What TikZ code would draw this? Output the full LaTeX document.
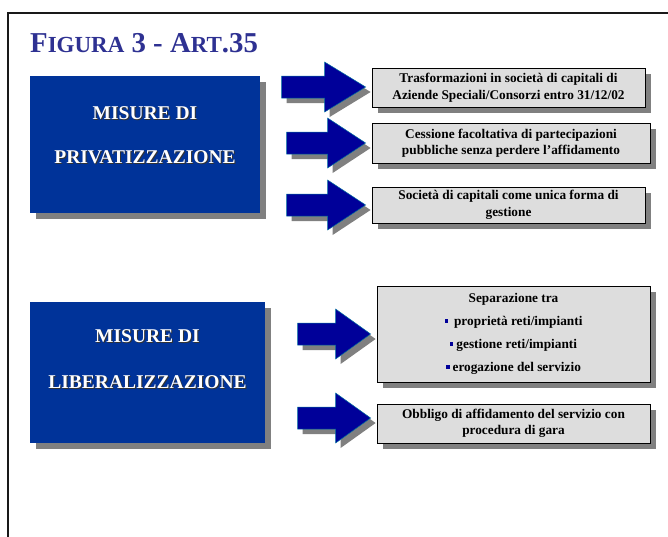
\documentclass[tikz,border=0pt]{standalone}
\usepackage{fontspec}
\setmainfont{Liberation Serif}
\usetikzlibrary{shadows,calc}
\definecolor{titleblue}{RGB}{46,49,146}
\definecolor{boxblue}{RGB}{0,51,153}
\definecolor{arrowblue}{RGB}{0,0,153}
\definecolor{arrowedge}{RGB}{0,110,160}
\definecolor{shadowgray}{RGB}{128,128,128}
\definecolor{panelgray}{RGB}{221,221,221}
\newcommand{\shtext}[1]{\makebox[0pt][l]{\hspace{1pt}\raisebox{-1pt}{\color{black!80}#1}}{\color{white}#1}}
\newcommand{\bul}{\textcolor{arrowblue}{\rule[3pt]{3.5pt}{3.5pt}}}
% block arrow: #1 tip point, #2 head length, #3 total length
\newcommand{\blockarr}[3]{%
  \begin{scope}[shift={#1}]
    \fill[shadowgray] (-#3+5,-6) -- (-#2+5,-6) -- (-#2+5,-20) -- (5,5) -- (-#2+5,30) -- (-#2+5,16) -- (-#3+5,16) -- cycle;
    \draw[arrowshape] (-#3,-11) -- (-#2,-11) -- (-#2,-25) -- (0,0) -- (-#2,25) -- (-#2,11) -- (-#3,11) -- cycle;
  \end{scope}}
\begin{document}
\begin{tikzpicture}[x=1pt,y=-1pt,
  frame/.style={draw=black!90, line width=1.6pt},
  bluebox/.style={fill=boxblue, inner sep=0pt,
    drop shadow={shadow xshift=6pt, shadow yshift=-6pt, fill=shadowgray, opacity=1}},
  bluetext/.style={inner sep=0pt, anchor=base, font=\bfseries\fontsize{19.5}{22}\selectfont},
  graybox/.style={draw=black, line width=0.8pt, fill=panelgray, inner sep=0pt, align=center,
    font=\bfseries\fontsize{13.3}{16.5}\selectfont,
    drop shadow={shadow xshift=6pt, shadow yshift=-6pt, fill=shadowgray, opacity=1}},
  arrowshape/.style={fill=arrowblue, draw=arrowedge, line width=0.5pt, line join=miter}]
\useasboundingbox (0,0) rectangle (668,536);
\fill[white] (0,0) rectangle (668,536);
\draw[frame] (8,537) -- (8,13) -- (669,13);

\node[anchor=base west, inner sep=0pt, text=titleblue, font=\bfseries] (title) at (30,52)
  {\fontsize{28.8}{30}\selectfont F\fontsize{23}{24}\selectfont IGURA\fontsize{28.8}{30}\selectfont{} 3 - A\fontsize{23}{24}\selectfont RT\fontsize{28.8}{30}\selectfont .35};

% blue boxes
\node[bluebox, minimum width=230pt, minimum height=137pt] (priv) at (145,144.5) {};
\node[bluetext] (privA) at (145,119) {\shtext{MISURE DI}};
\node[bluetext] (privB) at (145,163) {\shtext{PRIVATIZZAZIONE}};
\node[bluebox, minimum width=235pt, minimum height=141pt] (lib) at (147.5,372.5) {};
\node[bluetext] (libA) at (147.5,342) {\shtext{MISURE DI}};
\node[bluetext] (libB) at (147.5,388) {\shtext{LIBERALIZZAZIONE}};

% gray boxes
\node[graybox, minimum width=273pt, minimum height=39pt] (a) at (508.5,87.5)
  {Trasformazioni in società di capitali di\\Aziende Speciali/Consorzi entro 31/12/02};
\node[graybox, minimum width=278pt, minimum height=40pt] (b) at (511,143)
  {Cessione facoltativa di partecipazioni\\pubbliche senza perdere l’affidamento};
\node[graybox, minimum width=273pt, minimum height=36pt] (c) at (508.5,205)
  {Società di capitali come unica forma di\\gestione};
\node[graybox, minimum width=273pt, minimum height=96pt] (d) at (513.5,334)
  {Separazione tra\\[6.5pt]
   \bul\hspace{6pt}proprietà reti/impianti\\[6.5pt]
   \bul\hspace{3pt}gestione reti/impianti\\[6.5pt]
   \bul\hspace{3pt}erogazione del servizio};
\node[graybox, minimum width=273pt, minimum height=39pt] (e) at (513.5,423.5)
  {Obbligo di affidamento del servizio con\\procedura di gara};

% arrows
\blockarr{($(a.west)+(-6,-0.5)$)}{41}{84}
\blockarr{($(b.west)+(-6,0)$)}{38}{79}
\blockarr{($(c.west)+(-6,0)$)}{38}{79}
\blockarr{($(d.west)+(-6,0)$)}{35}{73}
\blockarr{($(e.west)+(-6,-5.5)$)}{35}{73}
\end{tikzpicture}
\end{document}
